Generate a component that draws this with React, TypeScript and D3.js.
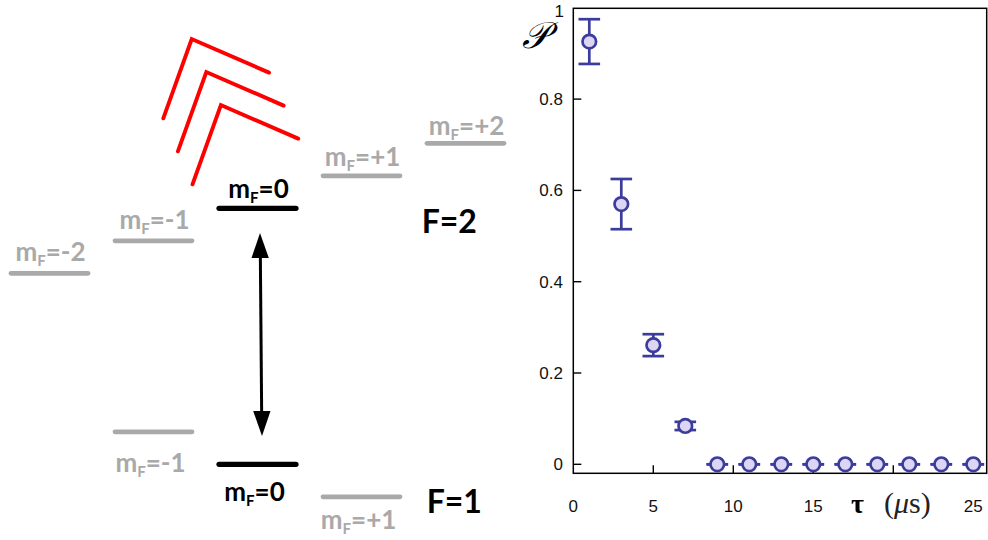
import React from 'react';
import * as d3 from 'd3';

// ---- plot data ----
const tau = [1, 3, 5, 7, 9, 11, 13, 15, 17, 19, 21, 23, 25];
const prob = [0.926, 0.57, 0.261, 0.084, 0, 0, 0, 0, 0, 0, 0, 0, 0];
const probErr = [0.049, 0.055, 0.024, 0.009, 0, 0, 0, 0, 0, 0, 0, 0, 0];
const xTicks = [0, 5, 10, 15, 20, 25];
const xTickLabels = ['0', '5', '10', '15', '', '25'];
const yTicks = [0, 0.2, 0.4, 0.6, 0.8, 1];
const yTickLabels = ['0', '0.2', '0.4', '0.6', '0.8', '1'];

// ---- level diagram data ----
const mF2 = [-2, -1, 0, 1, 2];
const mF2Labels = ['-2', '-1', '0', '+1', '+2'];
const mF1 = [-1, 0, 1];
const mF1Labels = ['-1', '0', '+1'];
const chevrons = [0, 1, 2];

const BLUE = '#3c3c9c';
const FILL = '#dcd6f4';
const GRAY = '#a9a9a9';

function MFLabel({ x, y, val, color, size }: any) {
  return (
    <text x={x} y={y} textAnchor="middle" fill={color} fontFamily="Lato, 'Open Sans', sans-serif" fontWeight={700} fontSize={size}>
      m
      <tspan fontSize={size * 0.58} dy={5}>F</tspan>
      <tspan dy={-5}>={val}</tspan>
    </text>
  );
}

export default function App() {
  // plot scales
  const x = d3.scaleLinear().domain([0, 25]).range([573.3, 973.3]);
  const y = d3.scaleLinear().domain([0, 1]).range([464.3, 7.8]);
  const frame = { x0: 573.3, x1: 986.7, y0: 8.3, y1: 473.3 };

  // diagram scales
  const mx = d3.scaleLinear().domain([-2, 2]).range([49.5, 465.5]);
  const ey = d3.scaleLinear().domain([0, 1]).range([464.3, 208.3]);
  const zeeman = 0.127;
  const yF2 = (m: number) => ey(1 + m * zeeman);
  const yF1 = (m: number) => ey(0 - m * zeeman);
  const halfLen = 38.5;

  const capW = 10.8;

  return (
    <svg width={988} height={540} style={{ position: 'absolute', left: 0, top: 0, background: '#fff' }}>
      <rect x={0} y={0} width={988} height={540} fill="#fff" />

      {/* red chevrons */}
      {chevrons.map((i) => {
        const vx = 191.7 + i * 14.6;
        const vy = 39 + i * 33;
        const p = d3.path();
        p.moveTo(vx - 28.4, vy + 79.3);
        p.lineTo(vx, vy);
        p.lineTo(vx + 77.3, vy + 33.6);
        return <path key={i} d={p.toString()} fill="none" stroke="#ff0000" strokeWidth={3.9} strokeLinecap="round" strokeLinejoin="miter" />;
      })}

      {/* F=2 levels */}
      {mF2.map((m, i) => (
        <g key={'f2' + m}>
          <line x1={mx(m) - halfLen} x2={mx(m) + halfLen} y1={yF2(m)} y2={yF2(m)} stroke={m === 0 ? '#000' : GRAY} strokeWidth={m === 0 ? 5.2 : 4.8} strokeLinecap="round" />
          <MFLabel x={mx(m) + 1} y={ey(1 + m * zeeman * 0.97) - 10.5} val={mF2Labels[i]} color={m === 0 ? '#000' : GRAY} size={26} />
        </g>
      ))}
      {/* F=1 levels */}
      {mF1.map((m, i) => (
        <g key={'f1' + m}>
          <line x1={mx(m) - halfLen} x2={mx(m) + halfLen} y1={yF1(m)} y2={yF1(m)} stroke={m === 0 ? '#000' : GRAY} strokeWidth={m === 0 ? 5.2 : 4.8} strokeLinecap="round" />
          <MFLabel x={mx(m) - 3} y={ey(0 - m * zeeman * 0.88) + 36.5} val={mF1Labels[i]} color={m === 0 ? '#000' : GRAY} size={26} />
        </g>
      ))}
      <text x={421.7} y={233.3} fontFamily="Lato, sans-serif" fontWeight={700} fontSize={32} fill="#000">F=2</text>
      <text x={426.7} y={513.3} fontFamily="Lato, sans-serif" fontWeight={700} fontSize={32} fill="#000">F=1</text>

      {/* double arrow */}
      <line x1={260.3} y1={250} x2={261.7} y2={418} stroke="#000" strokeWidth={3} />
      <path d={d3.line()([[260, 233], [251.5, 258], [268.8, 258]])! + 'Z'} fill="#000" />
      <path d={d3.line()([[262, 436], [253.2, 411], [270.5, 411]])! + 'Z'} fill="#000" />

      {/* plot frame */}
      <rect x={frame.x0} y={frame.y0} width={frame.x1 - frame.x0} height={frame.y1 - frame.y0} fill="none" stroke="#000" strokeWidth={1.5} />

      {/* y ticks */}
      {yTicks.map((t, i) => (
        <g key={'yt' + t}>
          {t < 1 && <line x1={frame.x0} x2={frame.x0 + 8} y1={y(t)} y2={y(t)} stroke="#000" strokeWidth={1.4} />}
          <text x={t === 1 ? 564 : 563} y={t === 1 ? 17 : y(t) + 6} textAnchor="end" fontFamily="'Liberation Sans', Arial, sans-serif" fontSize={17} fill="#111">{yTickLabels[i]}</text>
        </g>
      ))}
      {/* x ticks */}
      {xTicks.map((t, i) => (
        <g key={'xt' + t}>
          {t > 0 && t < 25 && <line x1={x(t)} x2={x(t)} y1={frame.y1} y2={frame.y1 - 8} stroke="#000" strokeWidth={1.4} />}
          <text x={x(t)} y={512} textAnchor="middle" fontFamily="'Liberation Sans', Arial, sans-serif" fontSize={17} fill="#111">{xTickLabels[i]}</text>
        </g>
      ))}

      {/* axis titles */}
      <text x={522} y={48} fontFamily="'DejaVu Serif', serif" fontStyle="italic" fontSize={37} fill="#000">𝒫</text>
      <text x={851} y={513} fontFamily="'Liberation Serif', serif" fontWeight={700} fontSize={28} fill="#000">τ</text>
      <text x={884} y={513} fontFamily="'Liberation Serif', serif" fontSize={30} fill="#222">
        (<tspan fontStyle="italic">μ</tspan>s)
      </text>

      {/* data: error bars + markers */}
      {tau.map((t, i) => {
        const cx = x(t);
        const top = y(prob[i] + probErr[i]);
        const bot = y(prob[i] - probErr[i]);
        return (
          <g key={'pt' + t}>
            <line x1={cx} x2={cx} y1={top} y2={bot} stroke={BLUE} strokeWidth={2.7} />
            <line x1={cx - capW} x2={cx + capW} y1={top} y2={top} stroke={BLUE} strokeWidth={2.7} />
            <line x1={cx - capW} x2={cx + capW} y1={bot} y2={bot} stroke={BLUE} strokeWidth={2.7} />
            <circle cx={cx} cy={y(prob[i])} r={6.8} fill={FILL} stroke={BLUE} strokeWidth={2.7} />
          </g>
        );
      })}
    </svg>
  );
}
